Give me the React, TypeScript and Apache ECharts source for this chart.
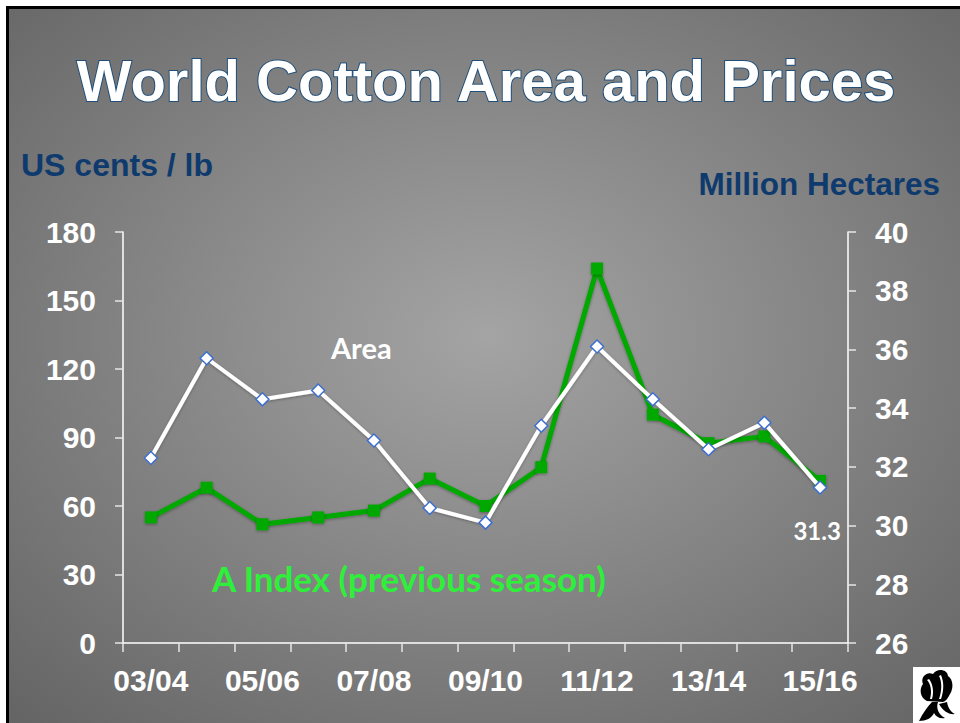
import React, { useEffect, useRef } from "react";
import * as echarts from "echarts";

const seasons = ["03/04", "04/05", "05/06", "06/07", "07/08", "08/09", "09/10", "10/11", "11/12", "12/13", "13/14", "14/15", "15/16"];
const aIndex = [55, 68, 52, 55, 58, 72, 60, 77, 164, 100, 87.5, 90.5, 71];
const area = [32.3, 35.7, 34.3, 34.6, 32.9, 30.6, 30.1, 33.4, 36.1, 34.3, 32.6, 33.5, 31.3];
const leftTicks = { min: 0, max: 180, interval: 30 };
const rightTicks = { min: 26, max: 40, interval: 2 };

const FONT = "'Liberation Sans', Arial, sans-serif";
const SOFT = "Lato, 'Open Sans', sans-serif";

const cottonD =
  "M8 16 C5 9 12 3 18 6 C22 0 32 1 33 8 C38 11 39 20 35 26 C33 30 31 33 28 34 L12 33 C5 30 4 21 8 16 Z M12 12 C16 16 17 24 15 31 L17 31 C19 24 18 16 14 11 Z M24 8 C27 14 27 22 24 31 L26 31 C29 22 29 14 26 7 Z " +
  "M4 53 C8 45 12 39 17 34 L23 34 C21 40 23 46 30 50 C25 51 21 49 19 45 C17 50 11 53 4 53 Z M24 36 L32 34 C33 40 36 44 40 46 C34 47 28 43 24 36 Z";

let registered = false;

export default function App() {
  const ref = useRef<HTMLDivElement>(null);
  useEffect(() => {
    if (!ref.current) return;
    if (!registered) {
      echarts.graphic.registerShape("cotton", echarts.graphic.extendPath(cottonD, {}));
      registered = true;
    }
    const chart = echarts.init(ref.current, null, { renderer: "svg" });
    const areaData = area.map((v, i) =>
      i === area.length - 1
        ? {
            value: v,
            label: {
              show: true,
              position: "bottom",
              distance: 24,
              offset: [-3, 0],
              formatter: "{c}",
              color: "#fff",
              fontSize: 24,
              fontWeight: "bold",
              fontFamily: SOFT,
            },
          }
        : v
    );
    chart.setOption({
      animation: false,
      backgroundColor: "#ffffff",
      graphic: [
        {
          type: "rect",
          z: -100,
          shape: { x: 7.5, y: 7.5, width: 960, height: 730 },
          style: {
            fill: new echarts.graphic.RadialGradient(0.5, 0.45, 0.75, [
              { offset: 0, color: "#a4a4a4" },
              { offset: 1, color: "#626262" },
            ]),
            stroke: "#000",
            lineWidth: 3,
          },
        },
        {
          type: "text",
          x: 486,
          y: 80,
          style: {
            text: "World Cotton Area and Prices",
            fill: "#ffffff",
            stroke: "#1f4e79",
            lineWidth: 2,
            font: `bold 58px ${FONT}`,
            textAlign: "center",
            textVerticalAlign: "middle",
          },
        },
        {
          type: "text",
          x: 21,
          y: 165,
          style: {
            text: "US cents / lb",
            fill: "#0e3a6d",
            font: `bold 32px ${FONT}`,
            textAlign: "left",
            textVerticalAlign: "middle",
          },
        },
        {
          type: "text",
          x: 940,
          y: 184,
          style: {
            text: "Million Hectares",
            fill: "#0e3a6d",
            font: `bold 31.5px ${FONT}`,
            textAlign: "right",
            textVerticalAlign: "middle",
          },
        },
        {
          type: "text",
          x: 331,
          y: 347,
          style: {
            text: "Area",
            fill: "#ffffff",
            font: `bold 29px ${SOFT}`,
            textAlign: "left",
            textVerticalAlign: "middle",
          },
        },
        {
          type: "text",
          x: 212,
          y: 578,
          style: {
            text: "A Index (previous season)",
            fill: "#2ef03a",
            font: `bold 35px ${SOFT}`,
            textAlign: "left",
            textVerticalAlign: "middle",
          },
        },
        {
          type: "rect",
          shape: { x: 913, y: 667, width: 47, height: 56 },
          style: { fill: "#ffffff" },
        },
        {
          type: "cotton",
          x: 915,
          y: 668,
          scaleX: 1.0,
          scaleY: 1.0,
          style: { fill: "#000000" },
        },
      ],
      grid: { left: 123, right: 112, top: 232, bottom: 80, containLabel: false },
      xAxis: {
        type: "category",
        data: seasons,
        boundaryGap: true,
        axisLine: { show: true, lineStyle: { color: "#ffffff", width: 1.5 } },
        axisTick: { show: true, interval: 0, length: 9, lineStyle: { color: "#e6e6e6", width: 1.5 } },
        axisLabel: {
          interval: 1,
          color: "#ffffff",
          fontSize: 30,
          fontWeight: "bold",
          fontFamily: FONT,
          margin: 22,
        },
        splitLine: { show: false },
      },
      yAxis: [
        {
          type: "value",
          position: "left",
          ...leftTicks,
          axisLine: { show: true, lineStyle: { color: "#ffffff", width: 1.5 } },
          axisTick: { show: true, length: 8, lineStyle: { color: "#e6e6e6", width: 1.5 } },
          axisLabel: { color: "#ffffff", fontSize: 30, fontWeight: "bold", fontFamily: FONT, margin: 27 },
          splitLine: { show: false },
        },
        {
          type: "value",
          position: "right",
          ...rightTicks,
          axisLine: { show: true, lineStyle: { color: "#ffffff", width: 1.5 } },
          axisTick: { show: true, length: 8, lineStyle: { color: "#e6e6e6", width: 1.5 } },
          axisLabel: { color: "#ffffff", fontSize: 30, fontWeight: "bold", fontFamily: FONT, margin: 27 },
          splitLine: { show: false },
        },
      ],
      series: [
        {
          name: "A Index (previous season)",
          type: "line",
          yAxisIndex: 0,
          data: aIndex,
          symbol: "rect",
          symbolSize: 12,
          lineStyle: { color: "#00a800", width: 5, shadowColor: "rgba(0,0,0,0.35)", shadowBlur: 3, shadowOffsetY: 1 },
          itemStyle: { color: "#00a800", shadowColor: "rgba(0,0,0,0.35)", shadowBlur: 3, shadowOffsetY: 1 },
          z: 2,
        },
        {
          name: "Area",
          type: "line",
          yAxisIndex: 1,
          data: areaData,
          symbol: "diamond",
          symbolSize: 13,
          showAllSymbol: true,
          lineStyle: { color: "#ffffff", width: 4, shadowColor: "rgba(0,0,0,0.3)", shadowBlur: 3, shadowOffsetY: 1 },
          itemStyle: { color: "#ffffff", borderColor: "#3d6fd1", borderWidth: 1.5 },
          z: 3,
        },
      ],
    });
    return () => chart.dispose();
  }, []);
  return (
    <div
      ref={ref}
      style={{ position: "fixed", left: 0, top: 0, width: 960, height: 723 }}
    />
  );
}
